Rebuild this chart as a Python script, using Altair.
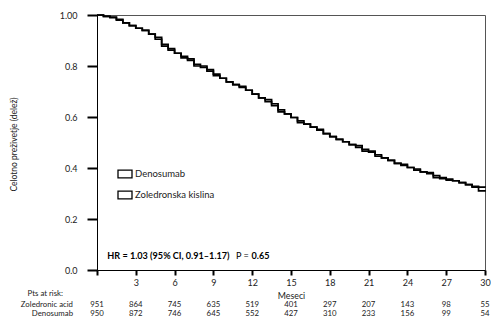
import altair as alt
import pandas as pd

# ---- data ----
months = [i * 0.5 for i in range(61)]
zoledronic = [1.000, 0.995, 0.990, 0.980, 0.969, 0.958, 0.948, 0.940, 0.925, 0.905,
              0.885, 0.862, 0.850, 0.838, 0.822, 0.806, 0.795, 0.780, 0.768, 0.752,
              0.738, 0.727, 0.716, 0.705, 0.690, 0.675, 0.660, 0.645, 0.628, 0.612,
              0.598, 0.585, 0.572, 0.560, 0.548, 0.535, 0.523, 0.512, 0.503, 0.492,
              0.481, 0.473, 0.462, 0.452, 0.440, 0.430, 0.418, 0.410, 0.402, 0.396,
              0.385, 0.378, 0.370, 0.362, 0.356, 0.350, 0.343, 0.335, 0.328, 0.325,
              0.323]
denosumab = [1.000, 0.995, 0.992, 0.983, 0.969, 0.958, 0.948, 0.940, 0.925, 0.912,
             0.878, 0.868, 0.850, 0.832, 0.828, 0.800, 0.800, 0.786, 0.762, 0.752,
             0.738, 0.727, 0.720, 0.705, 0.690, 0.675, 0.668, 0.652, 0.620, 0.612,
             0.598, 0.578, 0.572, 0.560, 0.552, 0.535, 0.523, 0.512, 0.503, 0.492,
             0.488, 0.466, 0.466, 0.446, 0.440, 0.430, 0.418, 0.414, 0.402, 0.392,
             0.385, 0.382, 0.362, 0.358, 0.352, 0.350, 0.343, 0.335, 0.325, 0.310,
             0.307]
series_names = ["Denosumab", "Zoledronska kislina"]

risk_months = [0, 3, 6, 9, 12, 15, 18, 21, 24, 27, 30]
risk_zol = [951, 864, 745, 635, 519, 401, 297, 207, 143, 98, 55]
risk_den = [950, 872, 746, 645, 552, 427, 310, 233, 156, 99, 54]
row_labels = ["Pts  at risk:", "Zoledronic acid", "Denosumab"]

x_ticks = [0, 3, 6, 9, 12, 15, 18, 21, 24, 27, 30]
y_ticks = [0.0, 0.2, 0.4, 0.6, 0.8, 1.0]

FONT = "Lato"
W, H = 388, 255

curves = pd.DataFrame({
    "month": months * 2,
    "surv": denosumab + zoledronic,
    "series": [series_names[0]] * len(months) + [series_names[1]] * len(months),
})

x_scale = alt.Scale(domain=[0, 30], nice=False, zero=False)
y_scale = alt.Scale(domain=[0, 1], nice=False)

ax_x = alt.Axis(values=x_ticks, title="Meseci", grid=False,
                tickSize=5, tickWidth=2, tickColor="black",
                domainColor="black", domainWidth=1,
                labelOverlap=False, labelFlush=False, labelBound=False,
                labelExpr="datum.value == 0 ? '' : datum.label",
                labelFontSize=9, labelPadding=3, labelColor="#222",
                titleFontSize=8.8, titleFontWeight="normal", titleColor="#222",
                titleY=25, titleBaseline="middle")
ax_y = alt.Axis(values=y_ticks, title="Celotno preživetje (delež)", grid=False,
                tickSize=10, tickWidth=2, tickColor="black",
                domainColor="black", domainWidth=1,
                labelOverlap=False, labelFlush=False,
                labelExpr="datum.value == 1 ? '1.00' : format(datum.value, '.1f')",
                labelFontSize=9, labelPadding=10, labelColor="#222",
                titleFontSize=8.5, titleFontWeight="normal", titleColor="#222",
                titleX=-84, titleY=129, titleBaseline="middle")

xs = alt.X("month:Q", scale=x_scale, axis=ax_x)
ys = alt.Y("surv:Q", scale=y_scale, axis=ax_y)

lines = alt.Chart(curves).mark_line(interpolate="step-after", strokeWidth=1.7).encode(
    x=xs, y=ys,
    color=alt.Color("series:N",
                    scale=alt.Scale(domain=series_names, range=["black", "black"]),
                    legend=alt.Legend(title=None, orient="none", legendX=20, legendY=151,
                                      symbolType="M-1,-0.55H1V0.55H-1Z", symbolSize=196,
                                      symbolStrokeWidth=1.3, symbolStrokeColor="black",
                                      labelFontSize=9.5, labelColor="#222", rowPadding=6,
                                      labelOffset=2, padding=0)),
)

hr_df = pd.DataFrame({
    "month": [0.8, 10.75, 11.95],
    "surv": [0.055, 0.055, 0.055],
    "txt": ["HR = 1.03 (95% CI, 0.91\u20131.17)", "P =", "0.65"],
    "w": ["bold", "normal", "bold"],
})
hr_bold = alt.Chart(hr_df[hr_df.w == "bold"]).mark_text(
    align="left", baseline="middle", fontSize=9.1, fontWeight="bold", color="black", font=FONT
).encode(x=xs, y=ys, text="txt:N")
hr_norm = alt.Chart(hr_df[hr_df.w == "normal"]).mark_text(
    align="left", baseline="middle", fontSize=9.1, color="black", font=FONT
).encode(x=xs, y=ys, text="txt:N")

ROW_PTS, ROW_ZOL, ROW_DEN = 279, 290, 299

risk_df = pd.DataFrame({
    "month": risk_months * 2,
    "n": risk_zol + risk_den,
    "row": ["zol"] * len(risk_months) + ["den"] * len(risk_months),
})
risk_zol_t = alt.Chart(risk_df[risk_df.row == "zol"]).mark_text(
    align="center", baseline="middle", fontSize=7.8, color="#222", font=FONT
).encode(x=xs, y=alt.value(ROW_ZOL), text="n:Q")
risk_den_t = alt.Chart(risk_df[risk_df.row == "den"]).mark_text(
    align="center", baseline="middle", fontSize=7.8, color="#222", font=FONT
).encode(x=xs, y=alt.value(ROW_DEN), text="n:Q")

lab_df = pd.DataFrame({"lab": row_labels, "row": [0, 1, 2]})
lab_pts = alt.Chart(lab_df[lab_df.row == 0]).mark_text(
    align="right", baseline="middle", fontSize=7.8, color="#222", font=FONT
).encode(x=alt.value(-34), y=alt.value(ROW_PTS), text="lab:N")
lab_zol = alt.Chart(lab_df[lab_df.row == 1]).mark_text(
    align="right", baseline="middle", fontSize=7.8, color="#222", font=FONT
).encode(x=alt.value(-24), y=alt.value(ROW_ZOL), text="lab:N")
lab_den = alt.Chart(lab_df[lab_df.row == 2]).mark_text(
    align="right", baseline="middle", fontSize=7.8, color="#222", font=FONT
).encode(x=alt.value(-24), y=alt.value(ROW_DEN), text="lab:N")

chart = alt.layer(
    lines, hr_bold, hr_norm, risk_zol_t, risk_den_t, lab_pts, lab_zol, lab_den
).properties(
    width=W, height=H,
    autosize=alt.AutoSizeParams(type="none"),
    padding={"left": 89, "top": 7, "right": 6, "bottom": 48},
).configure(font=FONT).configure_view(stroke="#555", strokeWidth=1)

chart.save("out.html", embed_options={"renderer": "svg", "actions": False})
